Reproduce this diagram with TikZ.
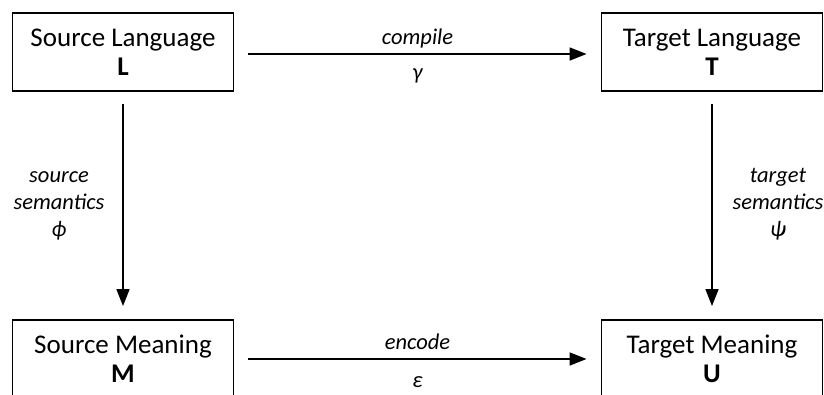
\documentclass[tikz,border=0pt]{standalone}
\usepackage{fontspec}
\setmainfont{Carlito}
\usetikzlibrary{arrows.meta}
\begin{document}
\begin{tikzpicture}[x=1pt,y=-1pt,
  box/.style={draw, line width=1.9pt, minimum width=221pt, minimum height=78pt,
    inner sep=0pt, align=center, font=\fontsize{27}{29}\selectfont},
  lbl/.style={align=center, inner sep=0pt, font=\fontsize{22.5}{27}\selectfont\itshape},
  arr/.style={line width=1.6pt, -{Triangle[length=17pt,width=13pt]}}]
  \useasboundingbox (0,0) rectangle (824,394);
  \clip (0,0) rectangle (824,394);
  % the four boxes
  \node[box] (L) at (123,52) {Source Language\\\textbf{L}};
  \node[box] (T) at (712,52) {Target Language\\\textbf{T}};
  \node[box] (M) at (123,359) {Source Meaning\\\textbf{M}};
  \node[box] (U) at (712,359) {Target Meaning\\\textbf{U}};
  % connectors
  \draw[arr, shorten <=14pt, shorten >=14pt] ([yshift=-2pt]L.east) -- ([yshift=-2pt]T.west)
    node[lbl, midway, above=5pt] (compile) {compile}
    node[lbl, midway, below=14pt] (gamma) {γ};
  \draw[arr, shorten <=14pt, shorten >=14pt] (M.east) -- (U.west)
    node[lbl, midway, above=9pt] (encode) {encode}
    node[lbl, midway, below=17pt] (eps) {ε};
  \draw[arr, shorten <=12pt, shorten >=13pt] (L.south) -- (M.north);
  \draw[arr, shorten <=12pt, shorten >=13pt] (T.south) -- (U.north);
  % side labels
  \node[lbl] (srcsem) at (59,206) {source\\semantics\\ϕ};
  \node[lbl] (tgtsem) at (778,204) {target\\semantics\\ψ};
\end{tikzpicture}
\end{document}
